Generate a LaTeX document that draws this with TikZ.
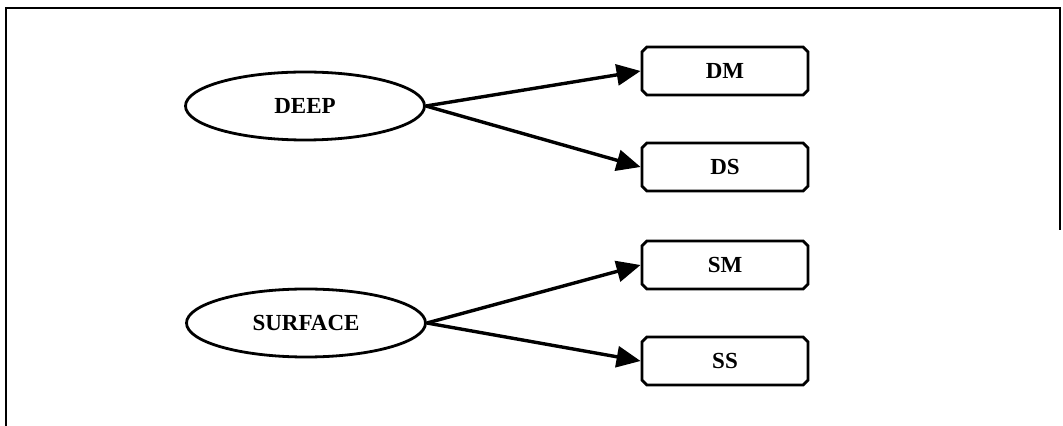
\documentclass[tikz,border=0pt]{standalone}
\usepackage{fontspec}
\setmainfont{Liberation Serif}
\usetikzlibrary{arrows.meta,positioning,shapes.geometric,shapes.misc}

\begin{document}
\begin{tikzpicture}[
    x=0.5pt, y=-0.5pt,
    level/.style={draw, ellipse, line width=1.4pt, minimum width=119.5pt, minimum height=34pt, inner sep=0pt, font=\fontsize{11.5}{14}\selectfont\bfseries},
    kind/.style={draw, chamfered rectangle, chamfered rectangle sep=1.2pt, line width=1.4pt, minimum width=83pt, minimum height=24pt, inner sep=0pt, font=\fontsize{11.5}{14}\selectfont\bfseries},
    link/.style={-{Triangle[length=12pt, width=10.5pt]}, line width=1.7pt}
]
    \useasboundingbox (0,0) rectangle (1063,426);
    % open frame
    \draw[line width=1pt] (6,426) -- (6,8) -- (1060,8) -- (1060,230);

    \node[level] (deep) at (305,106) {DEEP};
    \node[level] (surface) at (306,323) {SURFACE};

    \node[kind] (dm) at (725,71) {DM};
    \node[kind, below=22.6pt of dm] (ds) {DS};
    \node[kind, below=23.6pt of ds] (sm) {SM};
    \node[kind, below=22.6pt of sm] (ss) {SS};

    \draw[link] (deep.east) -- (dm.west);
    \draw[link] (deep.east) -- (ds.west);
    \draw[link] (surface.east) -- (sm.west);
    \draw[link] (surface.east) -- (ss.west);
\end{tikzpicture}
\end{document}
